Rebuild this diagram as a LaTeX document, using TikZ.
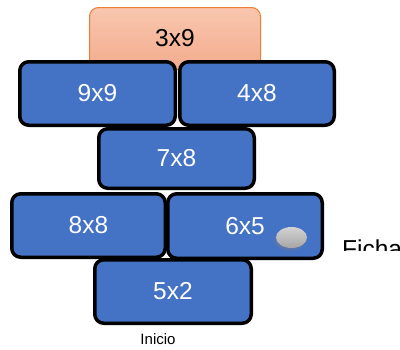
\documentclass[tikz,border=0pt]{standalone}
\usepackage{fontspec}
\setmainfont{Liberation Sans}
\usetikzlibrary{shapes.geometric,shadows}
\definecolor{tileblue}{RGB}{68,114,196}
\definecolor{goalfillA}{RGB}{249,198,175}
\definecolor{goalfillB}{RGB}{243,172,141}
\definecolor{goaledge}{RGB}{237,125,49}
\tikzset{
  tile/.style={draw=black, line width=3.5pt, fill=tileblue, rounded corners=9pt,
    text=white, font=\fontsize{24.5}{28}\selectfont, inner sep=0pt},
  goaltile/.style={draw=goaledge, line width=1pt, top color=goalfillA, bottom color=goalfillB,
    rounded corners=9pt, font=\fontsize{24.5}{28}\selectfont, inner sep=0pt},
  chip/.style={ellipse, draw=none, top color=gray!35, bottom color=gray!70,
    minimum width=31pt, minimum height=21pt, inner sep=0pt,
    drop shadow={shadow xshift=-1.5pt, shadow yshift=-2.5pt, opacity=0.35}},
  caption/.style={font=\fontsize{15}{18}\selectfont, inner sep=0pt},
  bigcaption/.style={font=\fontsize{24.5}{28}\selectfont, inner sep=0pt, anchor=base west}
}
\begin{document}
\begin{tikzpicture}[x=1pt, y=-1pt]
  \useasboundingbox (0,0) rectangle (400,349);
  % goal tile behind the top row
  \node[goaltile, minimum width=171pt, minimum height=62pt] (b39) at (175,38.5) {};
  \node[font=\fontsize{24.5}{28}\selectfont, inner sep=0pt] (t39) at (175,38) {3x9};
  % top row
  \node[tile, minimum width=155.5pt, minimum height=63.5pt] (b99) at (97.5,93.5) {9x9};
  \node[tile, minimum width=154.5pt, minimum height=63.5pt] (b48) at (257,93.5) {4x8};
  % middle
  \node[tile, minimum width=155.5pt, minimum height=59.5pt] (b78) at (176.5,158.5) {7x8};
  % lower row
  \node[tile, minimum width=153.5pt, minimum height=63.5pt] (b88) at (88.5,225.5) {8x8};
  \node[tile, minimum width=154.5pt, minimum height=64.5pt] (b65) at (245,226) {6x5};
  % start tile
  \node[tile, minimum width=156.5pt, minimum height=63.5pt] (b52) at (173,291.5) {5x2};
  % playing chip
  \node[chip] (chip) at (291.5,237.5) {};
  % captions
  \node[caption] (inicio) at (158,339) {Inicio};
  \begin{scope}
    \clip (330,228) rectangle (400,250.5);
    \node[bigcaption] (ficha) at (342,257.5) {Ficha};
  \end{scope}
\end{tikzpicture}
\end{document}
